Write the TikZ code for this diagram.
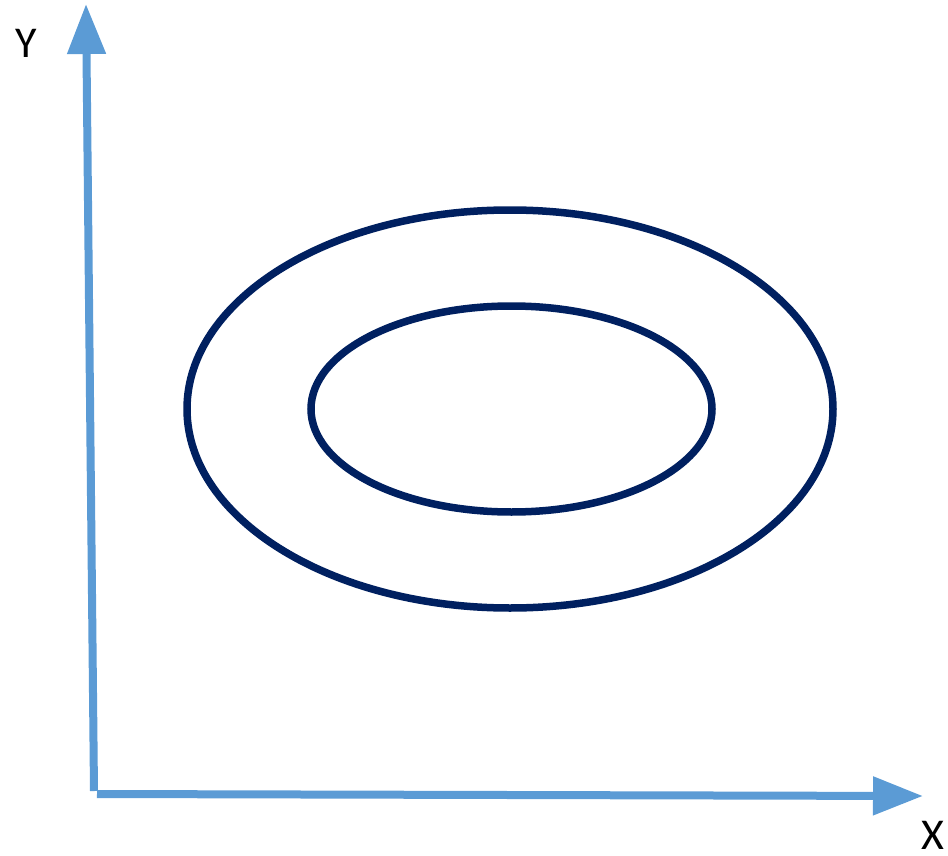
\documentclass[tikz,border=0pt]{standalone}
\usepackage{fontspec}
\setmainfont{Carlito}
\usepackage{tikz}
\usetikzlibrary{
    arrows.meta,
    positioning
}

\definecolor{axisblue}{HTML}{5B9BD5}
\definecolor{ringnavy}{HTML}{002060}

\begin{document}
\begin{tikzpicture}[x=1pt,y=-1pt,
    axis/.style={draw=axisblue,line width=8pt,-{Triangle[length=50pt,width=37pt]}},
    ring/.style={draw=ringnavy,line width=7.5pt},
    lab/.style={font=\fontsize{44}{44}\selectfont,inner sep=0pt}]

\useasboundingbox (0,0) rectangle (948,856);

% Labels
\node[lab] (ylab) at (26,43) {Y};
\node[lab] (xlab) at (933,835) {X};

% Axes
\coordinate (yfoot) at (94,791);
\coordinate (ytip) at (86,4);
\coordinate (xfoot) at (97,794);
\coordinate (xtip) at (923,796);
\draw[axis] (yfoot) -- (ytip);
\draw[axis] (xfoot) -- (xtip);

% Rings
\coordinate (outerc) at (510,409);
\coordinate (innerc) at (511.5,409);
\draw[ring] (outerc) ellipse [x radius=323,y radius=199];
\draw[ring] (innerc) ellipse [x radius=200.5,y radius=103];

\end{tikzpicture}
\end{document}
